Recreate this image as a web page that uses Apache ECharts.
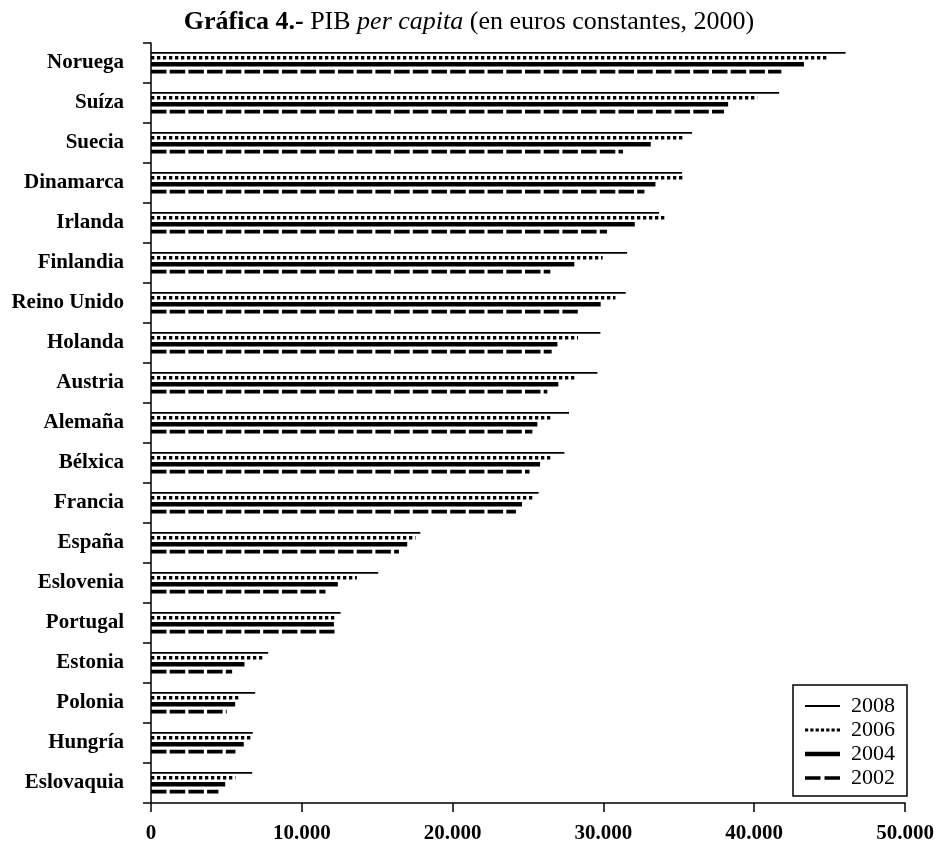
<!DOCTYPE html>
<html>
<head>
<meta charset="utf-8">
<script src="https://cdn.jsdelivr.net/npm/echarts@6/dist/echarts.min.js"></script>
<style>
html,body{margin:0;padding:0;background:#fff;}
#c{width:938px;height:847px;}
</style>
</head>
<body>
<div id="c"></div>
<script>
// ---- data ----
const categories = ['Noruega','Suíza','Suecia','Dinamarca','Irlanda','Finlandia','Reino Unido','Holanda','Austria','Alemaña','Bélxica','Francia','España','Eslovenia','Portugal','Estonia','Polonia','Hungría','Eslovaquia'];
const years = ['2008','2006','2004','2002'];
const v2008 = [46060,41650,35880,35220,33690,31570,31480,29800,29600,27720,27410,25700,17860,15070,12570,7770,6910,6750,6710];
const v2006 = [44800,40200,35370,35240,34110,29950,30800,28320,28160,26610,26600,25400,17540,13650,12170,7460,5950,6680,5600];
const v2004 = [43300,38270,33140,33450,32080,28070,29820,26950,27010,25620,25800,24600,16990,12390,12130,6200,5580,6150,4920];
const v2002 = [41800,38000,31300,32720,30240,26480,28300,26570,26280,25290,25100,24200,16440,11570,12170,5380,5020,5600,4470];
const xTicks = [0,10000,20000,30000,40000,50000];

const FONT = 'Liberation Serif';
const seriesValues = [v2008, v2006, v2004, v2002];
// line styles per year (style only)
const styles = [
  {off:-0.255, w:1.8, dash:null},
  {off:-0.13,  w:3.4, dash:[3.3,2.7]},
  {off:0.033,  w:4.5, dash:null},
  {off:0.215,  w:3.6, dash:[15.5,3.2]}
];
const icons = [
  'path://M0,0H35V1.8H0Z',
  'path://M0,0h3.2v3.2h-3.2z M5.3,0h3.2v3.2h-3.2z M10.6,0h3.2v3.2h-3.2z M15.9,0h3.2v3.2h-3.2z M21.2,0h3.2v3.2h-3.2z M26.5,0h3.2v3.2h-3.2z M31.8,0h3.2v3.2h-3.2z',
  'path://M0,0H35V4.5H0Z',
  'path://M0,0H15.5V3.6H0Z M19.5,0H35V3.6H19.5Z'
];

function fmt(v){ return String(v).replace(/\B(?=(\d{3})+(?!\d))/g,'.'); }

const series = years.map((y, si) => ({
  name: y,
  type: 'custom',
  itemStyle: {color:'#000'},
  encode: {x: 1, y: 0},
  data: categories.map((c, i) => [i, seriesValues[si][i]]),
  renderItem: function(params, api){
    const ci = api.value(0);
    const v = api.value(1);
    const p0 = api.coord([0, ci]);
    const p1 = api.coord([v, ci]);
    const band = api.size([0, 1])[1];
    const st = styles[si];
    const yy = p0[1] + st.off * band;
    return {
      type: 'line',
      shape: {x1: p0[0], y1: yy, x2: p1[0], y2: yy},
      style: {stroke: '#000', lineWidth: st.w, lineDash: st.dash, lineCap: 'butt', fill: null}
    };
  }
}));

const chart = echarts.init(document.getElementById('c'), null, {renderer:'canvas'});
chart.setOption({
  backgroundColor: '#fff',
  animation: false,
  title: {
    left: 'center', top: 4,
    text: '{b|Gráfica 4.-} {n|PIB} {i|per capita} {n|(en euros constantes, 2000)}',
    textStyle: {
      fontWeight: 'normal', fontFamily: FONT, fontSize: 26,
      rich: {
        b: {fontFamily: FONT, fontSize: 26, fontWeight: 'bold', color:'#000'},
        n: {fontFamily: FONT, fontSize: 26, fontWeight: 'normal', color:'#000'},
        i: {fontFamily: FONT, fontSize: 26, fontWeight: 'normal', fontStyle: 'italic', color:'#000'}
      }
    }
  },
  grid: {left: 151, right: 33, top: 43, bottom: 44, containLabel: false},
  xAxis: {
    type: 'value', min: xTicks[0], max: xTicks[xTicks.length-1], interval: xTicks[1]-xTicks[0],
    splitLine: {show:false},
    axisLine: {show:true, lineStyle:{color:'#000', width:1.5}},
    axisTick: {show:true, length:9, inside:false, lineStyle:{color:'#000', width:1.5}},
    axisLabel: {fontFamily: FONT, fontSize: 21, fontWeight:'bold', color:'#000', margin: 20, formatter: fmt}
  },
  yAxis: {
    type: 'category', data: categories, inverse: true,
    axisLine: {show:true, lineStyle:{color:'#000', width:1.5}},
    axisTick: {show:true, length:8, alignWithLabel:false, lineStyle:{color:'#000', width:1.5}},
    axisLabel: {fontFamily: FONT, fontSize: 21, fontWeight:'bold', color:'#000', margin: 27}
  },
  legend: {
    orient: 'vertical', left: 793, top: 685,
    width: 112,
    data: years.map((y, i) => ({name: y, icon: icons[i]})),
    symbolKeepAspect: true,
    itemWidth: 35, itemHeight: 14, itemGap: 2,
    borderColor: '#000', borderWidth: 1.5, borderRadius: 0,
    padding: [10, 12, 7, 12],
    backgroundColor: '#fff',
    textStyle: {fontFamily: FONT, fontSize: 22, color:'#000', lineHeight: 22, padding:[0,0,0,6]},
    selectedMode: false
  },
  series: series
});
</script>
</body>
</html>
